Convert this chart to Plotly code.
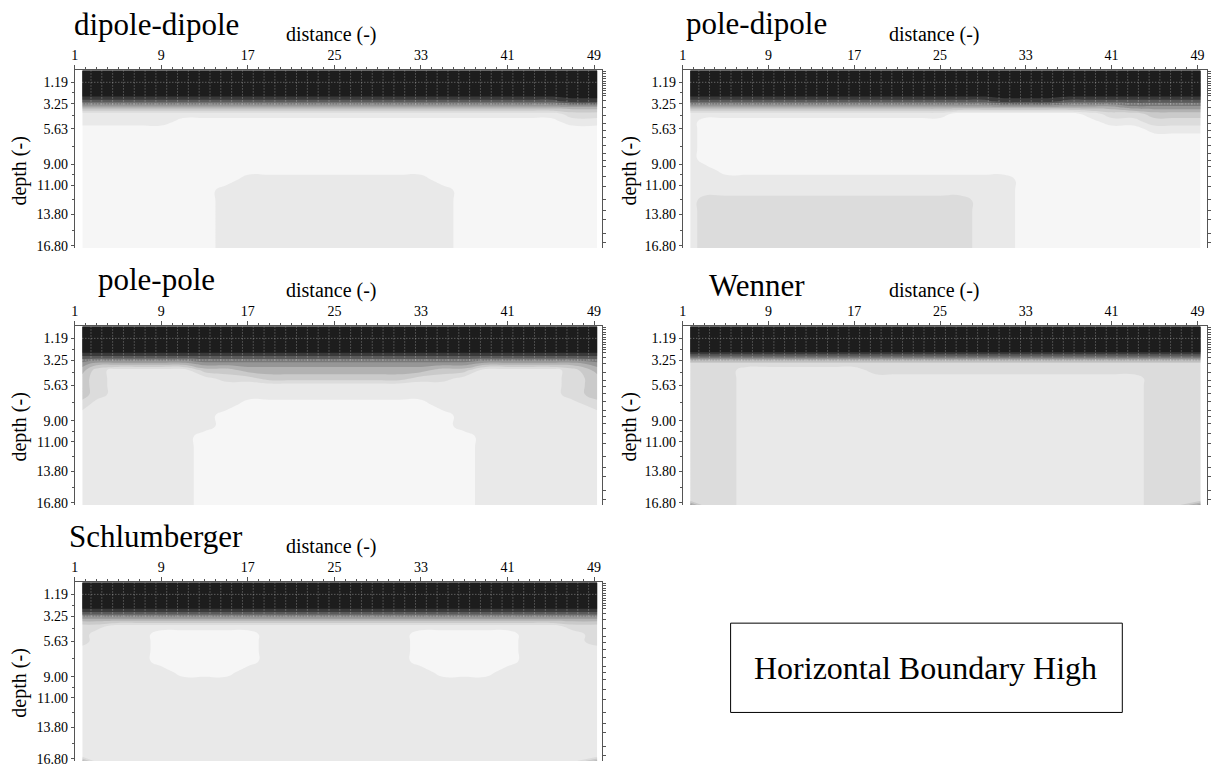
import plotly.graph_objects as go

W, H = 1214, 776
FONT = "Liberation Serif"

# Model grid: distance columns and depth rows of each resistivity section
DIST = [1.7, 3, 5, 7, 9, 11, 13, 15, 17, 19, 21, 23, 25, 27, 29, 31, 33, 35,
        37, 39, 41, 43, 45, 47, 49.3]
DEPTH = [0.06, 1.19, 2.4, 3.0, 3.6, 4.2, 5.0, 5.63, 6.5, 7.5, 8.5, 9.5, 10.5,
         11.5, 12.5, 13.5, 14.5, 15.5, 16.5, 17.0]

X_TICKS = [1, 9, 17, 25, 33, 41, 49]
Y_TICKS = [1.19, 3.25, 5.63, 9.00, 11.00, 13.80, 16.80]
Y_TICK_TEXT = ["1.19", "3.25", "5.63", "9.00", "11.00", "13.80", "16.80"]
Y_MINOR = [2.2, 4.4, 7.3, 10.0, 12.4, 15.3]
MESH_DEPTH = [0.12, 0.34, 0.59, 0.81, 1.07, 1.28, 1.54, 1.76, 2.01, 2.26, 2.49,
              2.96, 3.58, 4.38, 5.16, 5.8, 6.42, 7.22, 8.0, 8.64, 9.26, 10.2,
              11.15, 12.4, 13.4, 14.3, 15.6, 16.5]

# Gray level per cell (0 = lightest, 9 = darkest), one string per depth row
DIPOLE_DIPOLE = [
    "9999999999999999999999999",
    "9999999999999999999999999",
    "9999999999999999999999999",
    "7777777777777777777777788",
    "4444444444444444444444444",
    "1111111111111111111111122",
    "1111100000000000000000011",
    "0000000000000000000000000",
    "0000000000000000000000000",
    "0000000000000000000000000",
    "0000000000000000000000000",
    "0000000000000000000000000",
    "0000000011111111100000000",
    "0000000111111111110000000",
    "0000000111111111110000000",
    "0000000111111111110000000",
    "0000000111111111110000000",
    "0000000111111111110000000",
    "0000000111111111110000000",
    "0000000111111111110000000",
]

POLE_DIPOLE = [
    "9999999999999999999999999",
    "9999999999999999999999999",
    "9999999999999999999999999",
    "7777777777777778887777777",
    "4444444444444444444445555",
    "1111111111111000000122333",
    "1000000000000000000011222",
    "1000000000000000000000111",
    "1000000000000000000000000",
    "1000000000000000000000000",
    "1000000000000000000000000",
    "1100000000000000000000000",
    "1111111111111111000000000",
    "1111111111111111000000000",
    "1222222222222211000000000",
    "1222222222222211000000000",
    "1222222222222211000000000",
    "1222222222222211000000000",
    "1222222222222211000000000",
    "1222222222222211000000000",
]

POLE_POLE = [
    "9999999999999999999999999",
    "9999999999999999999999999",
    "9999999999999999999999999",
    "7777777777777777777777777",
    "5444445555555555555444445",
    "4211113344444444433111124",
    "3211111223333333221111123",
    "3211111111111111111111123",
    "3211111111111111111111123",
    "2111111100000000011111112",
    "1111111000000000001111111",
    "1111111000000000001111111",
    "1111110000000000000111111",
    "1111110000000000000111111",
    "1111110000000000000111111",
    "1111110000000000000111111",
    "1111110000000000000111111",
    "1111110000000000000111111",
    "1111110000000000000111111",
    "1111110000000000000111111",
]

WENNER = [
    "9999999999999999999999999",
    "9999999999999999999999999",
    "9999999999999999999999999",
    "6666666666666666666666666",
    "2222222222222222222222222",
    "2221111112222222222222222",
    "2221111111111111111111222",
    "2221111111111111111111222",
    "2221111111111111111111222",
    "2221111111111111111111222",
    "2221111111111111111111222",
    "2221111111111111111111222",
    "2221111111111111111111222",
    "2221111111111111111111222",
    "2221111111111111111111222",
    "2221111111111111111111222",
    "2221111111111111111111222",
    "2221111111111111111111222",
    "2221111111111111111111222",
    "5221111111111111111111225",
]

SCHLUMBERGER = [
    "9999999999999999999999999",
    "9999999999999999999999999",
    "9999999999999999999999999",
    "7777777777777777777777777",
    "4444444444444444444444444",
    "2211111111111111111111122",
    "2111000001111111000001112",
    "2111000001111111000001112",
    "1111000001111111000001111",
    "1111000001111111000001111",
    "1111100011111111100011111",
    "1111111111111111111111111",
    "1111111111111111111111111",
    "1111111111111111111111111",
    "1111111111111111111111111",
    "1111111111111111111111111",
    "1111111111111111111111111",
    "1111111111111111111111111",
    "1111111111111111111111111",
    "4111111111111111111111114",
]

GRAYS = ["#f6f6f6", "#e9e9e9", "#dcdcdc", "#cacaca", "#b2b2b2",
         "#969696", "#787878", "#5a5a5a", "#3a3a3a", "#1d1d1d"]
GRAY_SCALE = [[k / 9, c] for k, c in enumerate(GRAYS)]

# (title, grid, column, row, title offset above frame)
PANELS = [
    ("dipole-dipole", DIPOLE_DIPOLE, 0, 0, 46),
    ("pole-dipole", POLE_DIPOLE, 1, 0, 47),
    ("pole-pole", POLE_POLE, 0, 1, 47),
    ("Wenner", WENNER, 1, 1, 41),
    ("Schlumberger", SCHLUMBERGER, 0, 2, 46),
]

# Frame placement in pixels
COL_X = [(71, 600), (681, 1207)]
COL_RANGE = [[1.0, 49.74], [1.0, 49.9]]
ROW_Y = [(71, 250), (329, 509), (587, 767)]
Y_RANGE = [17.0, 0.06]

TITLE_POS = {0: 153, 1: 755}
DIST_LABEL_X = {0: 329, 1: 934}
DEPTH_LABEL_X = {0: 16, 1: 628}


def px(x):
    return x / W


def py(y):
    return 1 - y / H


fig = go.Figure()
annotations = []
layout = {}
AX = dict(color="black", linecolor="#555555", linewidth=1, tickcolor="#555555",
          showgrid=False, zeroline=False,
          tickfont=dict(family=FONT, size=14, color="black"))

for i, (title, grid, col, row, title_off) in enumerate(PANELS):
    n = i + 1
    xa = "x" if n == 1 else f"x{n}"
    ya = "y" if n == 1 else f"y{n}"
    yr = f"y{n + 5}"
    z = [[int(c) for c in line] for line in grid]

    fig.add_trace(go.Contour(
        x=DIST, y=DEPTH, z=z, xaxis=xa, yaxis=ya,
        autocontour=False,
        contours=dict(start=0.5, end=8.5, size=1, coloring="fill", showlines=False),
        colorscale=GRAY_SCALE, showscale=False,
        line=dict(width=0, smoothing=1.3), hoverinfo="skip",
    ))

    # dotted mesh lines over the section
    gx, gy = [], []
    for k in range(2, 49):
        gx += [k + 0.5, k + 0.5, None]
        gy += [DEPTH[0], 3.4, None]
    for d in (1.19, 3.25):
        gx += [DIST[0], DIST[-1], None]
        gy += [d, d, None]
    fig.add_trace(go.Scatter(
        x=gx, y=gy, xaxis=xa, yaxis=ya, mode="lines",
        line=dict(color="rgba(255,255,255,0.42)", width=1, dash="1px,2px"),
        hoverinfo="skip", showlegend=False,
    ))
    fig.add_trace(go.Scatter(x=[None], y=[None], xaxis=xa, yaxis=yr,
                             showlegend=False, hoverinfo="skip"))

    x0, x1 = COL_X[col]
    y0, y1 = ROW_Y[row]
    key = "" if n == 1 else str(n)
    layout["xaxis" + key] = dict(
        AX, domain=[px(x0), px(x1)], range=COL_RANGE[col], anchor=ya, side="top",
        showline=True, ticks="outside", ticklen=4, tickmode="array",
        tickvals=X_TICKS, ticktext=[str(t) for t in X_TICKS],
        minor=dict(ticks="outside", ticklen=2, dtick=1, tick0=1, tickcolor="#555555"),
    )
    layout["yaxis" + key] = dict(
        AX, domain=[py(y1), py(y0)], range=Y_RANGE, anchor=xa,
        showline=True, ticks="outside", ticklen=3, tickmode="array",
        tickvals=Y_TICKS, ticktext=Y_TICK_TEXT,
        minor=dict(ticks="outside", ticklen=2, tickmode="array", tickvals=Y_MINOR,
                   tickcolor="#555555"),
    )
    layout[f"yaxis{n + 5}"] = dict(
        AX, range=Y_RANGE, overlaying=ya, anchor=xa, side="right",
        showline=True, ticks="outside", ticklen=3, tickmode="array",
        tickvals=MESH_DEPTH, showticklabels=False,
    )

    annotations.append(dict(
        text=title, x=px(TITLE_POS[col]), y=py(y0 - title_off), xref="paper",
        yref="paper", xanchor="center", yanchor="middle", showarrow=False,
        font=dict(family=FONT, size=31, color="black"),
    ))
    annotations.append(dict(
        text="distance (-)", x=px(DIST_LABEL_X[col]), y=py(y0 - 36),
        xref="paper", yref="paper", xanchor="center", yanchor="middle",
        showarrow=False, font=dict(family=FONT, size=20, color="black"),
    ))
    annotations.append(dict(
        text="depth (-)", x=px(DEPTH_LABEL_X[col]), y=py(y0 + 101),
        xref="paper", yref="paper", xanchor="center", yanchor="middle",
        textangle=-90, showarrow=False, font=dict(family=FONT, size=20, color="black"),
    ))

annotations.append(dict(
    text="Horizontal Boundary High", x=px(925), y=py(673), xref="paper", yref="paper",
    xanchor="center", yanchor="middle", showarrow=False,
    font=dict(family=FONT, size=32, color="black"),
))

fig.update_layout(
    width=W, height=H, margin=dict(l=0, r=0, t=0, b=0),
    paper_bgcolor="white", plot_bgcolor="white", showlegend=False,
    annotations=annotations,
    shapes=[dict(type="rect", xref="paper", yref="paper",
                 x0=px(729), x1=px(1122), y0=py(718), y1=py(628),
                 line=dict(color="black", width=1))],
    **layout,
)

fig.write_html("out.html")
